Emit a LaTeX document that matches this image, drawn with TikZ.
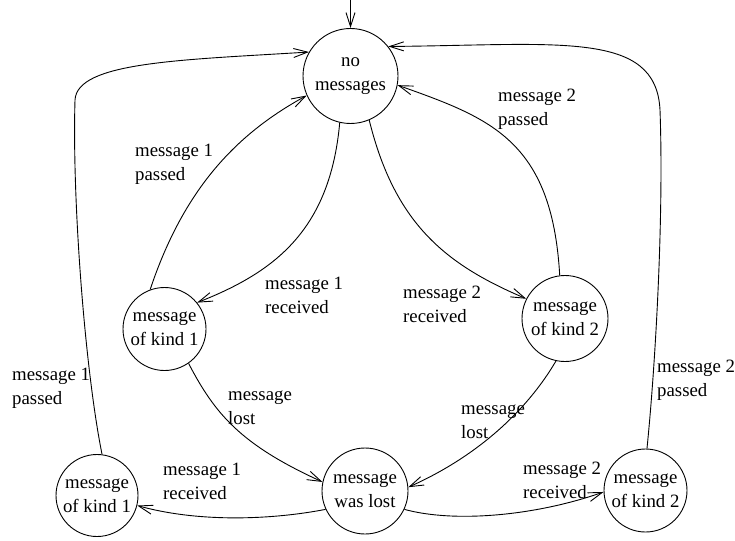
\documentclass[tikz,border=0pt]{standalone}
\usepackage{fontspec}
\setmainfont{Liberation Serif}
\newfontfamily\diagfont{Liberation Serif}
\usetikzlibrary{arrows.meta}

\begin{document}
\begin{tikzpicture}[x=1pt,y=-1pt,
  every node/.style={font=\diagfont\fontsize{18.8}{24}\selectfont},
  state/.style={draw,circle,inner sep=0pt,align=center,line width=0.9pt},
  lbl/.style={anchor=west,align=left,inner sep=0pt},
  edge/.style={line width=0.9pt,-{Straight Barb[length=14pt,width=9pt,line width=0.9pt]}}]
\useasboundingbox (0,0) rectangle (735,540);

% states
\node[state,minimum size=95pt] (nm) at (350.5,76) {no\\messages};
\node[state,minimum size=83pt] (k1) at (164.5,329) {message\\of kind 1};
\node[state,minimum size=86pt] (k2) at (565,318.5) {message\\of kind 2};
\node[state,minimum size=86pt] (wl) at (365,491) {message\\was lost};
\node[state,minimum size=82pt] (b1) at (97,495.5) {message\\of kind 1};
\node[state,minimum size=83pt] (b2) at (645.5,490.5) {message\\of kind 2};

% initial arrow
\coordinate (init) at (350.5,0);
\draw[edge] (init) -- (nm.north);

% transitions
\draw[edge] (nm.-103) .. controls (330,230) and (275,272) .. (k1.39);
\draw[edge] (k1.110) .. controls (185,185) and (240,132) .. (nm.204);
\draw[edge] (nm.-67) .. controls (395,225) and (447,265) .. (k2.153);
\draw[edge] (k2.97) .. controls (552,140) and (490,118) .. (nm.-11);
\draw[edge] (k1.-55) .. controls (215,414) and (240.5,444.5) .. (wl.168);
\draw[edge] (k2.-102) .. controls (526,412) and (476,457) .. (wl.5);
\draw[edge] (wl.205) .. controls (273.5,519.5) and (200,523) .. (b1.-14);
\draw[edge] (wl.-25) .. controls (454,523) and (535,516) .. (b2.182);
\draw[edge] (b1.83) .. controls (85,370) and (72,200) .. (75,100)
  .. controls (77,62) and (180,60) .. (nm.150);
\draw[edge] (b2.88) .. controls (655,370) and (664,220) .. (660,110)
  .. controls (656,30) and (560,45) .. (nm.38);

% labels
\node[lbl] (l1) at (135,164.5) {message 1\\passed};
\node[lbl] (l2) at (498,109.5) {message 2\\passed};
\node[lbl] (l3) at (265,295.5) {message 1\\received};
\node[lbl] (l4) at (403,304) {message 2\\received};
\node[lbl] (l5) at (12,388.5) {message 1\\passed};
\node[lbl] (l6) at (228,407.5) {message\\lost};
\node[lbl] (l7) at (461,421.5) {message\\lost};
\node[lbl] (l8) at (657,380.5) {message 2\\passed};
\node[lbl] (l9) at (523,480.5) {message 2\\received};
\node[lbl] (l10) at (163,481.5) {message 1\\received};
\end{tikzpicture}
\end{document}
